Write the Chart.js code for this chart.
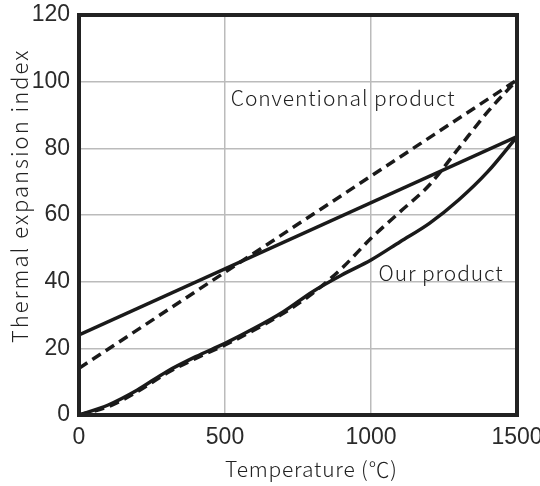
<!DOCTYPE html>
<html><head><meta charset="utf-8">
<script src="https://cdn.jsdelivr.net/npm/chart.js@4/dist/chart.umd.min.js"></script>
<style>html,body{margin:0;padding:0;background:#fff}#wrap{width:540px;height:486px}</style>
</head><body><div id="wrap"><canvas id="c" width="540" height="486"></canvas></div>
<script>
const temps = [0,100,200,300,400,500,600,700,800,900,1000,1100,1200,1300,1400,1500];
const ourCurve = [0,3,7.5,13,17.5,21.5,26,31,37,42,46.5,52,57.5,64.5,73,83.5];
const convCurve = [0,2.5,7,12.5,17,21,25.5,30.5,36.5,44,53,61,69,80,91,100.5];
const ourLineX = [0,1500];
const ourLine = [24,83.5];
const convLineX = [0,1500];
const convLine = [14,100.5];
const xTicks = [0,500,1000,1500];
const yTicks = [0,20,40,60,80,100,120];
const xTitle = 'Temperature (℃)';
const yTitle = 'Thermal expansion index';
const labels = [
  {text:'Conventional product', x:520, y:95},
  {text:'Our product', x:1026, y:42.5}
];

const pts = (xs, ys) => xs.map((x,i)=>({x:x,y:ys[i]}));
const FONT = "'Noto Sans CJK JP','Noto Sans',sans-serif";
const TICKFONT = "'Liberation Sans Narrow','Liberation Sans',sans-serif";

const framePlugin = {
  id:'frame',
  afterDatasetsDraw(chart){
    const {ctx, chartArea:a, scales} = chart;
    ctx.save();
    ctx.fillStyle = '#222';
    ctx.textBaseline = 'middle';
    ctx.font = "300 21px " + FONT;
    try { ctx.letterSpacing = '0.9px'; } catch(e){}
    ctx.textAlign = 'left';
    labels.forEach(l=>{
      ctx.fillText(l.text, scales.x.getPixelForValue(l.x), scales.y.getPixelForValue(l.y));
    });
    // axis titles
    ctx.font = "300 21px " + FONT;
    try { ctx.letterSpacing = '0.8px'; } catch(e){}
    ctx.textAlign = 'left';
    ctx.fillText(xTitle, a.left + 146, a.bottom + 54);
    ctx.translate(20, a.bottom - 72);
    ctx.rotate(-Math.PI/2);
    ctx.font = "300 22px " + FONT;
    try { ctx.letterSpacing = '2px'; } catch(e){}
    ctx.fillText(yTitle, 0, 0);
    ctx.restore();
    ctx.save();
    ctx.strokeStyle = '#222';
    ctx.lineWidth = 4;
    ctx.strokeRect(a.left, a.top, a.right-a.left, a.bottom-a.top);
    ctx.restore();
  }
};

const lineStyle = (dashed)=>({
  borderColor:'#1a1a1a', borderWidth:3.5, pointRadius:0, fill:false,
  borderDash: dashed ? [10,6] : [], tension:0.4, cubicInterpolationMode:'monotone'
});

new Chart(document.getElementById('c'), {
  type:'line',
  data:{ datasets:[
    Object.assign({data:pts(ourLineX, ourLine)}, lineStyle(false)),
    Object.assign({data:pts(convLineX, convLine)}, lineStyle(true)),
    Object.assign({data:pts(temps, ourCurve)}, lineStyle(false)),
    Object.assign({data:pts(temps, convCurve)}, lineStyle(true))
  ]},
  options:{
    responsive:false, animation:false,
    layout:{padding:{top:15,right:23,left:0,bottom:0}},
    plugins:{legend:{display:false}, tooltip:{enabled:false}},
    scales:{
      x:{type:'linear', min:0, max:1500,
        afterBuildTicks(s){ s.ticks = xTicks.map(v=>({value:v})); },
        afterFit(s){ s.height = 71; s.paddingLeft = 0; s.paddingRight = 0; },
        grid:{color:'#bbb', lineWidth:1.5, drawTicks:false},
        border:{display:false},
        ticks:{color:'#2a2a2a', padding:9, maxRotation:0, autoSkip:false,
          callback:(v)=>String(v), font:{family:TICKFONT, size:23}},
        title:{display:false}
      },
      y:{min:0, max:120,
        afterBuildTicks(s){ s.ticks = yTicks.map(v=>({value:v})); },
        afterFit(s){ s.width = 79; s.paddingTop = 0; s.paddingBottom = 0; },
        grid:{color:'#bbb', lineWidth:1.5, drawTicks:false},
        border:{display:false},
        ticks:{color:'#2a2a2a', padding:9, autoSkip:false,
          callback:(v)=>String(v), font:{family:TICKFONT, size:23}},
        title:{display:false}
      }
    }
  },
  plugins:[framePlugin]
});
</script></body></html>
